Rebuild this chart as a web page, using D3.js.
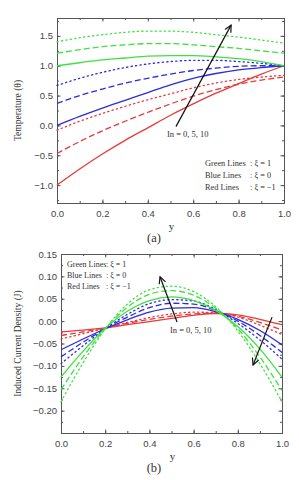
<!DOCTYPE html>
<head>
<meta charset="utf-8">
<style>
    body { margin: 0; background: #fff; }
    .tick text { font-family: "Liberation Sans", Arial, sans-serif; font-size: 9.5px; fill: #444; }
    .axis path, .axis line { stroke: #555; }
    .serif { font-family: "Liberation Serif", "Times New Roman", serif; fill: #333; }
</style>
</head>
<body>
<script src="https://d3js.org/d3.v7.min.js"></script>
<script>

///////////////////////////
////////// DATA ///////////
///////////////////////////

const yPos = [0, 0.1, 0.2, 0.3, 0.4, 0.5, 0.6, 0.7, 0.8, 0.9, 1.0];

// (a) temperature, In = 0, 5, 10
const thetaGreen0  = [1.00, 1.05, 1.10, 1.13, 1.16, 1.17, 1.17, 1.15, 1.12, 1.07, 1.00];
const thetaGreen5  = [1.21, 1.27, 1.32, 1.35, 1.37, 1.37, 1.35, 1.32, 1.29, 1.25, 1.21];
const thetaGreen10 = [1.40, 1.47, 1.52, 1.56, 1.58, 1.58, 1.56, 1.52, 1.48, 1.43, 1.38];
const thetaBlue0   = [0.00, 0.15, 0.29, 0.42, 0.55, 0.68, 0.79, 0.87, 0.93, 0.97, 1.00];
const thetaBlue5   = [0.37, 0.50, 0.61, 0.71, 0.79, 0.86, 0.92, 0.96, 0.99, 1.00, 1.00];
const thetaBlue10  = [0.67, 0.79, 0.89, 0.97, 1.03, 1.07, 1.09, 1.09, 1.07, 1.04, 1.00];
const thetaRed0    = [-1.00, -0.73, -0.48, -0.25, -0.04, 0.17, 0.36, 0.54, 0.70, 0.86, 1.00];
const thetaRed5    = [-0.47, -0.27, -0.09, 0.07, 0.22, 0.36, 0.49, 0.60, 0.69, 0.76, 0.81];
const thetaRed10   = [-0.08, 0.07, 0.20, 0.32, 0.43, 0.53, 0.63, 0.71, 0.77, 0.81, 0.84];

// (b) induced current density, In = 0, 5, 10
const jGreen0  = [-0.125, -0.067, -0.016, 0.022, 0.046, 0.054, 0.046, 0.024, -0.012, -0.062, -0.125];
const jGreen5  = [-0.153, -0.080, -0.017, 0.031, 0.060, 0.068, 0.058, 0.029, -0.017, -0.080, -0.155];
const jGreen10 = [-0.180, -0.093, -0.018, 0.038, 0.070, 0.078, 0.066, 0.032, -0.022, -0.095, -0.180];
const jBlue0   = [-0.064, -0.040, -0.017, 0.003, 0.020, 0.029, 0.030, 0.021, 0.004, -0.021, -0.053];
const jBlue5   = [-0.080, -0.047, -0.017, 0.009, 0.030, 0.040, 0.038, 0.024, 0.000, -0.032, -0.070];
const jBlue10  = [-0.095, -0.055, -0.017, 0.015, 0.039, 0.048, 0.045, 0.026, -0.005, -0.042, -0.085];
const jRed0    = [-0.024, -0.020, -0.015, -0.008, -0.001, 0.006, 0.013, 0.017, 0.014, 0.004, -0.008];
const jRed5    = [-0.032, -0.024, -0.015, -0.005, 0.004, 0.011, 0.016, 0.018, 0.011, -0.003, -0.020];
const jRed10   = [-0.040, -0.028, -0.016, -0.003, 0.008, 0.016, 0.020, 0.019, 0.009, -0.009, -0.030];

const xTicks = [0, 0.2, 0.4, 0.6, 0.8, 1.0];
const thetaTicks = [-1.0, -0.5, 0.0, 0.5, 1.0, 1.5];
const jTicks = [-0.20, -0.15, -0.10, -0.05, 0.00, 0.05, 0.10, 0.15];

const legendNames = ["Green Lines", "Blue Lines", "Red Lines"];
const legendXi = [": \u03BE = 1", ": \u03BE = 0", ": \u03BE = \u22121"];
const inLabel = "In = 0, 5, 10";

// arrows in data units: [x0, v0, x1, v1]
const arrowA = [0.524, -0.02, 0.767, 1.68];
const arrowB1 = [0.525, -0.002, 0.448, 0.099];
const arrowB2 = [0.955, 0.009, 0.869, -0.098];

///////////////////////////
////////// SETUP //////////
///////////////////////////

const colors = { green: "#3ee23e", blue: "#2b2be0", red: "#e83a3a" };
const dashes = [null, "6,3", "1.3,3.2"];

const svg = d3.select("body").append("svg")
    .attr("width", 299).attr("height", 480);

svg.append("defs").append("marker")
    .attr("id", "head").attr("viewBox", "0 0 10 10")
    .attr("refX", 9).attr("refY", 5)
    .attr("markerWidth", 7).attr("markerHeight", 7)
    .attr("orient", "auto")
  .append("path")
    .attr("d", "M1,1 L9,5 L1,9")
    .attr("fill", "none").attr("stroke", "#111").attr("stroke-width", 1.4);

function panel(box, domain, yTicks, fmt, minorY, series, title, tag) {
    const x = d3.scaleLinear().domain([0, 1]).range([box.left, box.right]);
    const y = d3.scaleLinear().domain(domain).range([box.bottom, box.top]);
    const g = svg.append("g");

    const minorX = d3.range(0, 1.0001, 0.1);

    // major + minor ticks on all four sides, pointing inward
    g.append("g").attr("class", "axis").attr("transform", `translate(0,${box.bottom})`)
        .call(d3.axisBottom(x).tickValues(minorX).tickSize(-2).tickFormat(""));
    g.append("g").attr("class", "axis").attr("transform", `translate(0,${box.bottom})`)
        .call(d3.axisBottom(x).tickValues(xTicks).tickSize(-3.5).tickPadding(7).tickFormat(d3.format(".1f")));
    g.append("g").attr("class", "axis").attr("transform", `translate(0,${box.top})`)
        .call(d3.axisTop(x).tickValues(minorX).tickSize(-2).tickFormat(""));
    g.append("g").attr("class", "axis").attr("transform", `translate(0,${box.top})`)
        .call(d3.axisTop(x).tickValues(xTicks).tickSize(-3.5).tickFormat(""));
    g.append("g").attr("class", "axis").attr("transform", `translate(${box.left},0)`)
        .call(d3.axisLeft(y).tickValues(minorY).tickSize(-2).tickFormat(""));
    g.append("g").attr("class", "axis").attr("transform", `translate(${box.left},0)`)
        .call(d3.axisLeft(y).tickValues(yTicks).tickSize(-3.5).tickPadding(4).tickFormat(d3.format(fmt)));
    g.append("g").attr("class", "axis").attr("transform", `translate(${box.right},0)`)
        .call(d3.axisRight(y).tickValues(minorY).tickSize(-2).tickFormat(""));
    g.append("g").attr("class", "axis").attr("transform", `translate(${box.right},0)`)
        .call(d3.axisRight(y).tickValues(yTicks).tickSize(-3.5).tickFormat(""));
    g.selectAll(".domain").attr("stroke", "#555");

    const line = d3.line()
        .curve(d3.curveMonotoneX)
        .x((d, i) => x(yPos[i]))
        .y(d => y(d));

    g.selectAll("path.curve").data(series).join("path")
        .attr("class", "curve")
        .attr("d", d => line(d.values))
        .attr("fill", "none")
        .attr("stroke", d => colors[d.color])
        .attr("stroke-width", 1.3)
        .attr("stroke-linecap", d => d.dash === 2 ? "round" : "butt")
        .attr("stroke-dasharray", d => dashes[d.dash]);

    g.append("text").attr("class", "serif")
        .attr("transform", `translate(21,${(box.top + box.bottom) / 2}) rotate(-90)`)
        .attr("text-anchor", "middle").attr("font-size", 9.5)
        .text(title);

    g.append("text").attr("class", "serif")
        .attr("x", (box.left + box.right) / 2 + 1).attr("y", box.bottom + 27)
        .attr("text-anchor", "middle").attr("font-size", 11)
        .text("y");

    g.append("text").attr("class", "serif")
        .attr("x", 154).attr("y", box.bottom + 39)
        .attr("text-anchor", "middle").attr("font-size", 12.5)
        .text(tag);

    return { x, y, g };
}

function arrow(p, a) {
    p.g.append("line")
        .attr("x1", p.x(a[0])).attr("y1", p.y(a[1]))
        .attr("x2", p.x(a[2])).attr("y2", p.y(a[3]))
        .attr("stroke", "#111").attr("stroke-width", 1.2)
        .attr("marker-end", "url(#head)");
}

function legend(p, x0, xColon, y0, step, size) {
    legendNames.forEach((name, i) => {
        p.g.append("text").attr("class", "serif").attr("font-size", size)
            .attr("x", x0).attr("y", y0 + i * step).text(name);
        p.g.append("text").attr("class", "serif").attr("font-size", size)
            .attr("x", xColon).attr("y", y0 + i * step).text(legendXi[i]);
    });
}

//////////////////////////
////////// DRAW //////////
//////////////////////////

const seriesA = [
    { color: "red", dash: 0, values: thetaRed0 }, { color: "red", dash: 1, values: thetaRed5 }, { color: "red", dash: 2, values: thetaRed10 },
    { color: "blue", dash: 0, values: thetaBlue0 }, { color: "blue", dash: 1, values: thetaBlue5 }, { color: "blue", dash: 2, values: thetaBlue10 },
    { color: "green", dash: 0, values: thetaGreen0 }, { color: "green", dash: 1, values: thetaGreen5 }, { color: "green", dash: 2, values: thetaGreen10 }
];
const seriesB = [
    { color: "red", dash: 0, values: jRed0 }, { color: "red", dash: 1, values: jRed5 }, { color: "red", dash: 2, values: jRed10 },
    { color: "blue", dash: 0, values: jBlue0 }, { color: "blue", dash: 1, values: jBlue5 }, { color: "blue", dash: 2, values: jBlue10 },
    { color: "green", dash: 0, values: jGreen0 }, { color: "green", dash: 1, values: jGreen5 }, { color: "green", dash: 2, values: jGreen10 }
];

const pA = panel({ left: 57, right: 284, top: 18, bottom: 203 }, [-1.3, 1.8], thetaTicks, ".1f",
    d3.range(-1.25, 1.76, 0.25), seriesA, "Temperature (\u03B8)", "(a)");
arrow(pA, arrowA);
pA.g.append("text").attr("class", "serif").attr("font-size", 8.5)
    .attr("x", 167).attr("y", 137).text(inLabel);
legend(pA, 205, 250, 166, 12, 8.3);

const pB = panel({ left: 61, right: 282, top: 254, bottom: 433 }, [-0.25, 0.15], jTicks, ".2f",
    d3.range(-0.25, 0.151, 0.025), seriesB, "Induced Current Density (J)", "(b)");
arrow(pB, arrowB1);
arrow(pB, arrowB2);
pB.g.append("text").attr("class", "serif").attr("font-size", 8.5)
    .attr("x", 170).attr("y", 333).text(inLabel);
legend(pB, 67, 106, 267, 11, 8);

</script>
</body>
